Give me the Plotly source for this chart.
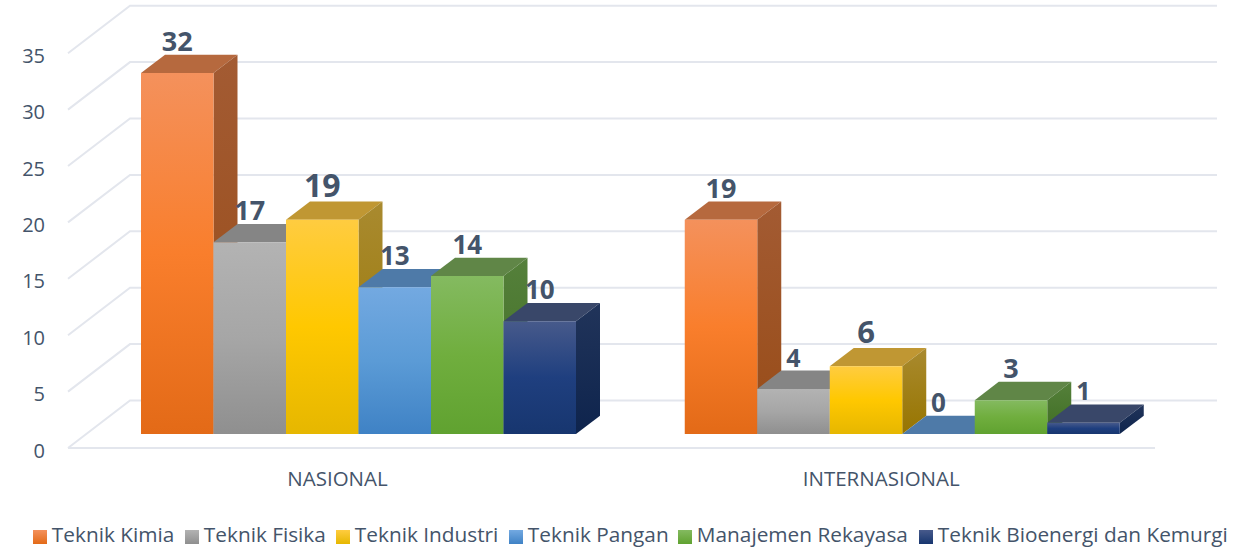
import plotly.graph_objects as go

# ---- data ----
categories = ["NASIONAL", "INTERNASIONAL"]
series_names = ["Teknik Kimia", "Teknik Fisika", "Teknik Industri", "Teknik Pangan",
                "Manajemen Rekayasa", "Teknik Bioenergi dan Kemurgi"]
nasional = [32, 17, 19, 13, 14, 10]
internasional = [19, 4, 6, 0, 3, 1]
y_ticks = [0, 5, 10, 15, 20, 25, 30, 35]

# ---- style ----
TXT = "#44546a"
GRID = "#e3e6ed"
FRONT = [
    ["#f4915c", "#f97e2c", "#e36a17"],
    ["#b3b3b3", "#a6a6a6", "#8f8f8f"],
    ["#ffcc40", "#ffc800", "#e6b700"],
    ["#73a9e1", "#5b9bd6", "#3f82c5"],
    ["#84ba60", "#70ae3e", "#60a230"],
    ["#475a8b", "#1f3f7f", "#17366f"],
]
TOP = ["#b6693e", "#858585", "#c09733", "#4e7aa8", "#608647", "#394769"]
SIDE = [
    ["#a35b33", "#984c17"],
    ["#7c7c7c", "#6a6a6a"],
    ["#a98a2f", "#977500"],
    ["#47739d", "#2d5f90"],
    ["#55803b", "#3f6e22"],
    ["#21345a", "#0e244d"],
]
LABEL_SIZES = [[27, 27, 32, 26, 26, 26], [27, 25, 31, 26, 27, 25]]
LEGEND_SWATCH_PX = [40, 192, 343, 516, 685, 926]

PX_X0, PX_UNIT = 141.0, 72.5     # pixel of bar-position 0, pixels per bar width
PX_Y0, PX_VAL = 434.0, 11.28     # pixel of value 0, pixels per value unit
AX_L, AX_B = 66, 459             # plot area left / bottom in pixels
W, H = 1251, 550
GROUP_START = [0.0, 7.5]
DEPTH_X = 24 / PX_UNIT
DEPTH_Y = 18.3 / PX_VAL
FLOOR_FRONT = -14 / PX_VAL
FLOOR_BACK = 33.5 / PX_VAL
TICK_SHIFT = -2.5 / PX_VAL
WALL_X0 = (68 - PX_X0) / PX_UNIT
WALL_X1 = (130 - PX_X0) / PX_UNIT
WALL_BACK_END = (1217 - PX_X0) / PX_UNIT
WALL_FRONT_END = (1155 - PX_X0) / PX_UNIT


def grad(colors):
    n = len(colors) - 1
    return dict(type="vertical", colorscale=[[i / n, c] for i, c in enumerate(reversed(colors))])


fig = go.Figure()


def poly(xs, ys, **kw):
    fig.add_trace(go.Scatter(x=xs + xs[:1], y=ys + ys[:1], mode="lines", fill="toself",
                             line=dict(width=0), hoverinfo="skip", showlegend=False, **kw))


# walls / gridlines
for t in y_ticks:
    xs = [WALL_X0, WALL_X1, WALL_BACK_END]
    ys = [t + FLOOR_FRONT, t + FLOOR_BACK, t + FLOOR_BACK]
    fig.add_trace(go.Scatter(x=xs, y=ys, mode="lines", line=dict(color=GRID, width=2),
                             hoverinfo="skip", showlegend=False))
fig.add_trace(go.Scatter(x=[WALL_X0, WALL_FRONT_END], y=[FLOOR_FRONT, FLOOR_FRONT], mode="lines",
                         line=dict(color=GRID, width=2), hoverinfo="skip", showlegend=False))

# bars
lab_x, lab_y, lab_t, lab_s = [], [], [], []
for g, vals in enumerate([nasional, internasional]):
    for i, v in enumerate(vals):
        x0 = GROUP_START[g] + i
        x1 = x0 + 1
        # top
        poly([x0, x0 + DEPTH_X, x1 + DEPTH_X, x1], [v, v + DEPTH_Y, v + DEPTH_Y, v],
             fillcolor=TOP[i])
        # side and front
        if v > 0:
            poly([x1, x1 + DEPTH_X, x1 + DEPTH_X, x1], [v, v + DEPTH_Y, DEPTH_Y, 0],
                 fillgradient=grad(SIDE[i]))
            poly([x0, x1, x1, x0], [v, v, 0, 0], fillgradient=grad(FRONT[i]))
        big = LABEL_SIZES[g][i] > 28
        lab_x.append(x0 + 0.5)
        lab_y.append(v + (31 if big else 28.5) / PX_VAL)
        lab_t.append(f"<b>{v}</b>")
        lab_s.append(LABEL_SIZES[g][i])

fig.add_trace(go.Scatter(x=lab_x, y=lab_y, mode="text", text=lab_t, textposition="middle center",
                         textfont=dict(family="Open Sans", size=lab_s, color=TXT),
                         hoverinfo="skip", showlegend=False, cliponaxis=False))

# legend, drawn on a page-sized pixel axis so that entries sit tight against their swatches
for i, name in enumerate(series_names):
    fig.add_trace(go.Scatter(
        x=[LEGEND_SWATCH_PX[i]], y=[537], xaxis="x2", yaxis="y2", mode="markers+text",
        marker=dict(symbol="square", size=14, color=FRONT[i][0],
                    gradient=dict(type="vertical", color=FRONT[i][2])),
        text=["\u200a" + name], textposition="middle right",
        textfont=dict(family="Open Sans", size=20.8, color=TXT),
        hoverinfo="skip", showlegend=False, cliponaxis=False))

group_centres = [GROUP_START[g] + 3 - 0.29 for g in range(2)]

fig.update_layout(
    width=W, height=H, margin=dict(l=0, r=0, t=0, b=0, pad=0, autoexpand=False),
    paper_bgcolor="white", plot_bgcolor="rgba(0,0,0,0)", showlegend=False,
    font=dict(family="Open Sans", color=TXT),
    xaxis=dict(domain=[AX_L / W, 1],
               range=[(AX_L - PX_X0) / PX_UNIT, (W - PX_X0) / PX_UNIT],
               tickmode="array", tickvals=group_centres, ticktext=categories,
               showgrid=False, zeroline=False, showline=False, ticks="outside", ticklen=1,
               tickcolor="rgba(0,0,0,0)", tickfont=dict(size=20.5, color=TXT)),
    yaxis=dict(domain=[(H - AX_B) / H, 1],
               range=[(PX_Y0 - AX_B) / PX_VAL, PX_Y0 / PX_VAL],
               tickmode="array", tickvals=[t + FLOOR_FRONT + TICK_SHIFT for t in y_ticks],
               ticktext=[str(t) for t in y_ticks],
               showgrid=False, zeroline=False, showline=False, ticks="outside", ticklen=16,
               tickcolor="rgba(0,0,0,0)", tickfont=dict(size=20, color=TXT)),
    xaxis2=dict(domain=[0, 1], range=[0, W], anchor="y2", visible=False),
    yaxis2=dict(domain=[0, 1], range=[H, 0], anchor="x2", visible=False),
)

fig.write_html("out.html", config=dict(displayModeBar=False),
               post_script="document.body.style.margin='0';document.documentElement.style.overflow='hidden';")
